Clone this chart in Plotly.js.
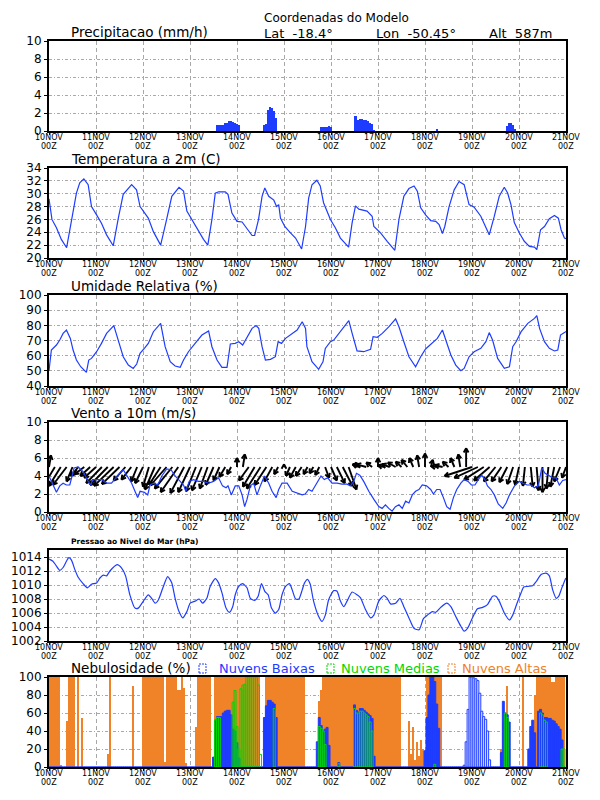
<!DOCTYPE html>
<html><head><meta charset="utf-8">
<script src="https://cdn.plot.ly/plotly-3.0.1.min.js"></script>
<style>html,body{margin:0;padding:0;background:#fff}#chart{width:600px;height:800px}</style>
</head><body><div id="chart"></div>
<script>
// ---------------- DATA ----------------
const dayLabels = ['10NOV','11NOV','12NOV','13NOV','14NOV','15NOV','16NOV','17NOV','18NOV','19NOV','20NOV','21NOV'];
const dayHours = [0,24,48,72,96,120,144,168,192,216,240,264];
const hourLabel = '00Z';

// Precipitation (mm/h), hourly from 10NOV 00Z
const precip = [
 0,0,0,0,0,0,0,0,0,0,0,0,0,0,0,0,0,0,0,0,0,0,0,0,
 0,0,0,0,0,0,0,0,0,0,0,0,0,0,0,0,0,0,0,0,0,0,0,0,
 0,0,0,0,0,0,0,0,0,0,0,0,0,0,0,0,0,0,0,0,0,0,0,0,
 0,0,0,0,0,0,0,0,0,0,0,0,0,0,0.7,0.7,0.7,0.7,0.9,0.9,1.1,1.1,1.0,0.9,
 0.8,0.7,0,0,0,0,0,0,0,0,0,0,0,0,0.7,0.8,2.3,2.65,2.6,2.2,1.5,0,0,0,
 0,0,0,0,0,0,0,0,0,0,0,0,0,0,0,0,0,0,0,0.4,0.4,0.5,0.45,0.6,
 0.5,0,0,0,0,0,0,0,0,0,0,0,1.7,1.7,1.2,1.35,1.35,1.2,1.2,1.1,0.9,0.8,0.1,0,
 0,0,0,0,0,0,0,0,0,0,0,0,0,0,0,0,0,0,0,0,0,0,0,0,
 0,0,0,0,0,0,0.2,0,0,0,0,0,0,0,0,0,0,0,0,0,0,0,0,0,
 0,0,0,0,0,0,0,0,0,0,0,0,0,0,0,0,0,0,0.6,0.85,0.9,0.7,0.2,0,
 0,0,0,0,0,0,0,0,0,0,0,0,0,0,0,0,0,0,0,0,0,0,0,0
];

// Temperature at 2m (C)
const tempT = [0,1.5,3.8,6.3,9,11.4,14,15.7,17.8,20,21.7,24.3,26.8,29.4,32.8,35.4,37.9,42.2,44.7,46.5,49,50.7,53.3,57,59.6,62.7,66.4,68.7,70.4,72.9,76.4,78.9,81.1,83.2,84.9,86.6,90,91.4,93.4,96,98.6,102,103.7,105,107,108.8,110.2,112.2,114.8,116.2,117.3,118.2,120.4,123.3,125.9,129,131,132.6,134.3,136.8,138.5,140.2,143.7,146.2,148.8,153,154.8,156.5,158.2,162.4,165,165.9,169.3,172.7,175.3,176.6,178.7,181.2,183.8,186.4,188.1,189.8,192.3,194.9,197.5,199.2,200.9,202.1,204.3,206.9,209.4,212,214.5,217.1,220.5,223.1,224.8,227.4,229.9,232.5,234.2,235.9,237.6,240.2,242.7,245.3,247.9,249.1,251,253,255.5,258.1,260.1,261.5,263.2,264];
const tempV = [29.2,26,24.7,22.9,21.6,26,30.1,31.7,32.3,31.4,28,26.7,25.4,23.6,21.9,26.2,29.9,31.4,30.6,28,27,26.2,24.1,22,25.4,29.6,31,30.4,27.3,26,24.1,22.9,22,26,30.1,30.3,30.3,29.9,27,25.7,25.6,24.3,23.5,23.5,26,29.6,30.9,29.6,29,28,28.3,26.2,24.9,23.9,23.1,21.4,24.9,29.3,31.4,32.1,31.2,28.6,26,24.7,23.1,21.7,25.5,28.1,27.6,27.3,26.5,24.9,23.9,22.6,21.7,21.2,26,29.6,30.8,31.2,30.4,27.8,26.7,25.8,25.7,25.2,23.8,24.9,28,30.6,31.9,31.4,28.3,27.9,26.5,24.9,23.6,26.5,29.6,31,30.1,28.3,25.5,23.9,22.6,21.8,21.7,21.3,24.4,24.9,26.1,26.6,26.2,24.4,23.1,23];

// Relative humidity (%)
const rhT = [0,1.2,3.8,5.5,7.2,8.9,10.9,12.3,14,16.2,19.1,20.3,21.7,24.3,26.8,29.4,33.1,35.4,37.9,40.5,43,44.8,46.5,49,50.7,53.3,57,59.3,61.9,64.4,67,68.7,71.2,74.6,78.1,81.5,83.2,85.8,88.3,90.9,92.6,95.1,96.9,98.9,101.1,103.7,105.7,107.1,108.8,110.5,113.1,115.6,117,118.7,120.8,124.2,126.7,129.3,131,131.7,134.3,137.7,139.9,141.1,143.7,145.4,147.9,150.5,153.1,154.8,157.3,160.7,164.2,165.5,167.6,170.2,173.6,177,178.7,181.2,183.8,187.2,189.8,192.3,195.8,198.3,200.9,202.6,205.2,207.7,210.3,212,214.5,217.1,220.5,223.1,224.8,226.5,229.1,232.5,235.1,236.8,238.5,241.1,244.5,247.9,249.1,250.5,253,255.5,258.1,259.8,261.2,263.2,264];
const rhV = [50,63.7,67,70.3,74.7,76.9,71.4,63.7,57.1,52.7,49,57.1,58.2,62.6,68.1,74.7,79.8,70.3,59.3,53.8,51.6,54.5,61.5,65.3,68.1,75.8,81.3,65.9,56,53.2,52.3,57.1,62.6,68.1,73.6,76.3,65.9,57.1,52.3,52.3,67.7,68.1,69.2,67,72.5,78,79.8,78,65.9,57.1,57.6,59.3,69.2,68.1,71.4,74.7,76.9,82.4,78,65.9,56,51,56,64.8,69.2,70.3,74.7,79.1,83.1,74.7,63.1,62.6,64.2,72.5,72.1,74.7,79.1,84.2,79.1,69.2,59.3,52.7,59.3,64.4,68.6,71.4,76.9,70.3,60.4,53.8,50.1,51.6,59.3,62.6,64.8,69.2,75.2,70.3,58.2,51.6,52.7,65.9,69.2,75.8,81.3,84.6,86.4,78,69.2,64.8,63.1,63.7,73.6,75.2,76];

// Wind speed at 10m (m/s)
const wsT = [0,2,3.8,5.5,7.2,8.9,10.6,11.8,12.8,14.9,17.4,20,21.4,22.2,24.3,26.8,29.4,31.9,35.4,37.9,39.6,42.2,43.9,45.3,46.5,48.7,50.4,51.6,53.3,55.5,57.6,60.1,62.3,64.4,67,68.7,69.9,71.6,73.8,76.3,78.9,81.5,84,86.6,88.6,90.4,91.4,93.1,95.1,96.9,98.6,99.9,101.1,102.8,104.5,106.2,107.9,110,112.2,113.9,116,117.3,119,121.6,124.2,126.7,129.3,130.8,132.6,134.3,136,137.7,138.9,140.6,142.3,144.5,147.1,149.6,152.2,153.9,155.6,157,158.7,160.7,163.3,165.9,168.4,170.1,171.8,173.5,175.2,176.9,178.7,180.4,182.1,183.8,185.5,187.2,188.9,190.6,192.8,194.9,196.3,198,199.7,201.4,203.1,204.8,206.5,208.2,210.3,212,214,215.7,217.5,219.2,220.9,222.6,223.9,225.7,227.4,229.4,231.7,233.4,235.1,237.7,240.2,241.9,244.1,246.2,247.9,249.9,251.6,253.3,255.5,257.2,258.9,260.6,262.3,264];
const wsV = [4.0,3.0,2.2,2.9,3.2,3.0,3.0,4.0,4.9,5.0,4.5,3.4,3.0,3.6,3.6,3.6,3.2,3.2,4.1,4.7,4.1,3.2,2.3,1.6,2.3,2.2,1.9,3.0,3.2,3.0,4.0,4.8,4.7,4.0,3.4,3.0,2.3,3.4,3.6,3.4,3.4,3.2,3.4,3.8,2.9,2.7,2.9,1.9,2.9,2.9,1.9,0.6,1.4,2.9,3.2,1.9,2.9,4.0,3.2,2.3,1.6,2.5,3.2,3.2,2.3,2.1,1.9,2.0,2.5,2.3,2.9,3.6,4.0,3.6,3.8,3.2,3.2,3.1,3.1,2.9,3.4,4.3,4.1,3.4,2.3,1.4,0.6,0.4,0.8,0.4,0.1,0.6,0.8,0.4,1.2,1.0,1.9,2.3,2.5,3.0,2.9,2.5,2.0,2.5,2.5,1.6,0.6,0.3,1.6,2.5,3.2,3.6,3.4,3.0,3.0,3.6,4.1,3.6,2.9,2.5,1.9,0.9,0.4,1.0,1.9,2.9,3.4,3.2,3.0,3.0,2.7,2.9,4.9,4.3,4.0,3.8,3.8,3.0,3.5,3.6];

// Wind vectors every 3 h: horizontal component (hours on the time axis) and vertical component (axis units), drawn from the 5 m/s baseline
const vecDx = [1,-5,-6,-7,-3,-4,-5,-5,-6,-8,-9,-10,-9,-6,-5,-3,-4,-3,-5,-6,-8,-9,-9,-7,-6,-5,-5,-4,-4,-3,-3,-2,0,1,-5,-6,-7,-6,-4,-2,0,-2,-3,-3,-2,-2,-2,2,3,4,5,4,1,-4,-5,-3,0,-3,-4,-4,-3,-3,-2,-1,0,1,-3,-4,-3,-2,-1,0,-14,-12,-10,-8,-6,-5,-4,-3,-2,-1,1,1,0,-1,-2,-3,-2];
const vecDy = [1.3,-1.8,-2.1,-2.0,-1.6,-1.0,-0.8,-1.0,-1.2,-1.8,-2.0,-2.1,-1.9,-1.5,-1.4,-1.6,-1.8,-2.2,-2.5,-2.0,-2.0,-2.4,-2.8,-2.9,-2.8,-2.7,-2.6,-2.4,-2.0,-1.5,-1.1,-0.8,1.0,1.4,-1.5,-2.2,-2.4,-2.0,-1.6,-0.8,0.3,-1.0,-1.2,-1.0,-0.8,-0.7,-0.9,-1.2,-1.5,-1.8,-2.1,-2.5,0.5,0.3,0.3,0.5,1.0,0.2,0.3,0.5,0.6,0.8,1.0,1.3,1.5,0.8,0.1,0.2,0.6,1.0,1.4,2.1,-1.0,-1.2,-1.4,-1.5,-1.6,-1.6,-1.7,-1.9,-2.0,-2.1,-2.2,-2.6,-2.8,-2.4,-2.2,-1.6,-1.2];

// Sea level pressure (hPa)
const presT = [0,2,3.8,5.5,7.2,8.9,10.1,11.4,13.2,14.9,17.4,19.6,21.7,24.3,26,27.7,29.4,31.1,34.8,37.1,39.1,41.3,43.9,45.6,48.2,50.7,52.4,54.2,55.9,58.4,60.6,62.7,64.4,66.4,68.3,70.4,72.1,74.6,76.7,78.4,80.6,82.3,84.9,86.6,88.3,90.4,92.1,93.8,95.1,96.9,98.9,101.1,102.8,105,106.8,108.5,110.2,111.9,113.6,115.6,117.3,119,120.8,122.8,124.2,125.9,127.6,129.3,130.5,132,133.4,135.1,137.7,139.4,141.1,142.8,145.4,147.1,148.8,150.5,152.2,154.8,157.3,159,161.6,164.2,165.9,168.4,171,172.7,174.4,177,179.2,181.2,183.8,186.4,189,191.2,193.2,195.8,197.5,200,203.1,205.2,207.7,210.3,212,213.7,216.2,218.8,221.4,223.9,226.5,228.2,229.9,232.5,235.1,236.8,239,241.1,242.4,244.5,247,248.8,251.3,253.8,255.5,257.2,259,260.3,261.9,263.6,264];
const presV = [1013.7,1013.4,1012.7,1012.1,1012.5,1013.4,1013.9,1013.6,1012.2,1011.1,1010.2,1009.6,1010.1,1010.3,1011,1011.4,1011.3,1012,1012.9,1012.4,1011.3,1008.6,1006.7,1006.7,1007.7,1008.6,1008.1,1007.4,1007.9,1009.8,1011.2,1010.3,1008.1,1006.2,1005.3,1006.2,1007.4,1007.7,1008,1007.4,1008.1,1009.8,1010.9,1010.3,1008.9,1006.7,1006.1,1006.9,1008.6,1009.8,1010.2,1009.6,1008.1,1007.8,1008.4,1010.2,1009.1,1008.6,1006.7,1006,1006.5,1008.6,1009.8,1010.2,1009.3,1008,1008,1009.3,1010.3,1010.8,1010.1,1007.7,1005.5,1004.8,1005.7,1007.9,1009.2,1009.1,1007.7,1006.9,1007.7,1009,1008.6,1008.2,1006.5,1005.3,1005.7,1007.7,1008.5,1008.1,1007.3,1007.4,1008.1,1006.9,1005.3,1003.8,1003.6,1005.2,1005.7,1006.2,1006.1,1006.8,1007.4,1006.9,1005.5,1004.1,1003.4,1003.8,1005.3,1006.6,1006.8,1007.2,1008.4,1008.4,1007.7,1006,1005,1005.7,1007.4,1008.9,1009.7,1009.8,1009.9,1010.5,1011.5,1011.7,1011.3,1009.3,1008.1,1008.4,1009.6,1010.8,1011];

// Cloud cover (%), hourly
const cloudHigh = [
 100,100,100,100,100,100,2,0,0,51,100,100,100,100,0,100,0,54,0,0,0,0,0,0,
 0,0,0,0,0,0,15,100,0,0,0,0,0,0,0,0,0,0,0,90,0,0,0,0,
 100,100,100,100,100,100,100,100,100,100,100,6,100,100,100,100,100,100,86,86,100,88,5,0,
 0,0,0,45,100,100,100,100,100,100,100,0,0,100,100,100,100,100,100,100,100,100,100,100,
 100,100,100,100,100,100,100,100,100,100,100,100,0,0,0,100,100,100,100,100,100,100,100,100,
 100,100,100,100,100,100,100,100,100,100,100,0,0,0,0,0,0,15,73,86,100,100,100,100,
 100,100,100,100,100,100,100,100,100,100,100,100,100,100,100,100,100,100,100,100,100,100,100,100,
 100,100,100,100,100,100,100,100,100,100,100,100,0,0,0,0,51,15,45,8,28,12,30,20,
 5,100,100,100,100,100,100,100,100,0,0,0,0,0,0,0,0,0,0,0,0,0,0,0,
 0,0,0,0,0,0,0,0,0,0,0,0,0,0,0,20,50,60,90,40,0,0,0,0,
 0,0,100,0,0,20,30,45,80,100,100,100,100,100,100,100,100,95,95,100,100,100,100,100
];
const cloudLow = [
 0,0,0,0,0,0,0,0,0,0,0,0,0,0,0,0,0,0,0,0,0,0,0,0,
 0,0,0,0,0,0,0,0,0,0,0,0,0,0,0,0,0,0,0,0,0,0,0,0,
 0,0,0,0,0,0,0,0,0,0,0,0,0,0,0,0,0,0,0,0,0,0,0,0,
 0,0,0,0,0,0,0,0,0,0,0,0,11,52,56,56,56,60,62,63,63,58,42,40,
 27,10,0,0,0,0,0,0,0,0,0,0,0,0,55,68,74,74,72,70,55,0,0,0,
 0,0,0,0,0,0,0,0,0,0,0,0,0,0,0,0,0,28,55,46,40,42,44,24,
 0,0,0,0,5,0,0,0,0,0,0,0,69,63,61,65,65,63,61,59,57,54,12,0,
 0,0,0,0,0,0,0,0,0,0,0,0,0,0,0,0,0,0,0,0,0,0,0,0,
 18,55,80,100,100,95,70,43,0,0,0,0,0,0,0,0,0,0,0,0,2,28,64,100,
 100,99,98,96,82,62,56,53,40,8,0,0,0,0,0,16,73,60,58,50,0,0,0,0,
 0,0,0,0,0,20,45,52,38,0,62,64,60,55,55,54,54,52,51,48,45,42,30,0
];
const cloudMid = [
 0,0,0,0,0,0,0,0,0,0,0,0,0,0,0,0,0,0,0,0,0,0,0,0,
 0,0,0,0,0,0,0,0,0,0,0,0,0,0,0,0,0,0,0,0,0,0,0,0,
 0,0,0,0,0,0,0,0,0,0,0,0,0,0,0,0,0,0,0,0,0,0,0,0,
 0,0,0,0,0,0,0,0,0,0,0,0,0,52,55,55,0,0,0,0,0,0,72,85,
 45,20,87,91,92,100,100,100,100,100,100,91,14,0,0,0,0,0,0,65,0,0,0,0,
 0,0,0,0,0,0,0,0,0,0,0,0,0,0,0,0,0,0,45,43,40,25,0,0,
 0,0,0,0,4,0,0,0,0,0,0,0,65,60,60,62,62,60,58,56,50,40,0,0,
 0,0,0,0,0,0,0,0,0,0,0,0,0,0,0,0,0,0,0,0,0,0,0,0,
 0,0,0,0,0,3,0,0,0,0,0,0,0,0,0,0,0,0,0,0,0,0,0,0,
 0,0,0,0,0,0,0,0,0,0,0,0,0,0,0,0,0,60,55,0,0,0,0,0,
 0,0,0,0,0,0,0,0,0,0,0,60,58,52,50,0,0,0,0,0,0,0,20,20
];

// ---------------- STYLE / LAYOUT ----------------
const BLUE = 'rgb(30,60,255)', ORANGE = 'rgb(240,130,40)', GREEN = 'rgb(0,215,0)';
const FONT = 'DejaVu Sans';
const W = 600, H = 800, PL = 49, PR = 566;
const panelPx = [[41,131],[168,258],[295,386],[422,512],[550,641],[677,767]];
const yRanges = [[0,10],[20,34],[40,100],[0,10],[1002,1015],[0,100]];
const yTicks = [[0,2,4,6,8,10],[20,22,24,26,28,30,32,34],[40,50,60,70,80,90,100],[0,2,4,6,8,10],[1002,1004,1006,1008,1010,1012,1014],[0,20,40,60,80,100]];
const titles = ['Precipitacao (mm/h)','Temperatura a 2m (C)','Umidade Relativa (%)','Vento a 10m (m/s)','Pressao ao Nivel do Mar (hPa)','Nebulosidade (%)'];

const hours = precip.map((_, i) => i);

const layout = {
  width: W, height: H, margin: {l:0, r:0, t:0, b:0},
  paper_bgcolor: '#fff', plot_bgcolor: '#fff', showlegend: false,
  barmode: 'overlay', bargap: 0,
  annotations: [], shapes: []
};
panelPx.forEach((p, i) => {
  const s = i === 0 ? '' : String(i + 1);
  layout['xaxis' + s] = {
    domain: [PL / W, PR / W], range: [0, 264], anchor: 'y' + s,
    tickmode: 'array', tickvals: dayHours, showticklabels: false,
    showgrid: true, gridcolor: '#a8a8a8', gridwidth: 1, griddash: '4px,3px',
    showline: true, mirror: true, linecolor: '#000', linewidth: 2,
    ticks: 'outside', ticklen: 2, tickcolor: '#000', zeroline: false, fixedrange: true
  };
  layout['yaxis' + s] = {
    domain: [1 - p[1] / H, 1 - p[0] / H], range: yRanges[i], anchor: 'x' + s,
    tickmode: 'array', tickvals: yTicks[i], ticktext: yTicks[i].map(String),
    showgrid: true, gridcolor: '#a8a8a8', gridwidth: 1, griddash: '3px,2px,1px,2px',
    showline: true, mirror: true, linecolor: '#000', linewidth: 2,
    ticks: 'outside', ticklen: 3, tickcolor: '#000',
    tickfont: {family: FONT, size: 12, color: '#000'}, zeroline: false, fixedrange: true
  };
  // two-row time labels under each panel
  dayHours.forEach((h, j) => {
    [[dayLabels[j], 6.5], [hourLabel, 15.5]].forEach(([txt, off]) => {
      layout.annotations.push({xref: 'x' + s, yref: 'paper', x: h, y: 1 - (p[1] + off) / H,
        xanchor: 'center', yanchor: 'middle', showarrow: false, borderpad: 0, text: txt,
        font: {family: FONT, size: 8, color: '#000'}});
    });
  });
  const small = i === 4;
  layout.annotations.push({
    xref: 'paper', yref: 'paper', x: 70 / W, y: 1 - (p[0] - (small ? 3 : 0)) / H,
    xanchor: 'left', yanchor: 'bottom', showarrow: false, borderpad: 0,
    text: small ? '<b>' + titles[i] + '</b>' : titles[i],
    font: {family: FONT, size: small ? 7.5 : 13.5, color: '#000'}
  });
});

// header
const hdr = (txt, x, y, size) => layout.annotations.push({xref:'paper', yref:'paper', x: x / W, y: 1 - y / H,
  xanchor:'left', yanchor:'middle', showarrow:false, text: txt, font:{family: FONT, size: size, color:'#000'}});
hdr('Coordenadas do Modelo', 262, 18, 12);
hdr('Lat  -18.4°', 262, 33, 13);
hdr('Lon  -50.45°', 374, 33, 13);
hdr('Alt  587m', 487, 33, 13);

// cloud legend
const legendItems = [['Nuvens Baixas', BLUE, 199, 218], ['Nuvens Medias', GREEN, 327, 340], ['Nuvens Altas', ORANGE, 448, 461]];
legendItems.forEach(([txt, col, sx, tx]) => {
  layout.shapes.push({type:'rect', xref:'paper', yref:'paper', x0: sx / W, x1: (sx + 7) / W,
    y0: 1 - 673 / H, y1: 1 - 664 / H, line:{color: col, width: 1, dash: '2px,1px'}, fillcolor:'rgba(0,0,0,0)'});
  layout.annotations.push({xref:'paper', yref:'paper', x: tx / W, y: 1 - 677 / H, xanchor:'left', yanchor:'bottom',
    showarrow:false, borderpad:0, text: txt, font:{family: FONT, size: 13, color: col}});
});

// ---------------- TRACES ----------------
const traces = [];
traces.push({type:'bar', x: hours, y: precip, width: 1, xaxis:'x', yaxis:'y',
  marker:{color: BLUE, line:{width:0}}, hoverinfo:'skip'});
traces.push({type:'scatter', mode:'lines', x: tempT, y: tempV, xaxis:'x2', yaxis:'y2',
  line:{color: BLUE, width: 1.2}, hoverinfo:'skip'});
traces.push({type:'scatter', mode:'lines', x: rhT, y: rhV, xaxis:'x3', yaxis:'y3',
  line:{color: BLUE, width: 1.2}, hoverinfo:'skip'});

// wind vectors from 5 m/s baseline, with arrowheads computed in pixel space
const PXH = (PR - PL) / 264, PXU = (panelPx[3][1] - panelPx[3][0]) / 10, BASE = 5;
const vx = [], vy = [];
vecDx.forEach((dx, i) => {
  const t = i * 3, dy = vecDy[i];
  const ex = t + dx, ey = BASE + dy;
  vx.push(t, ex, null); vy.push(BASE, ey, null);
  const px = dx * PXH, py = dy * PXU;
  if (Math.hypot(px, py) < 2) return;
  const a = Math.atan2(py, px);
  [-1, 1].forEach(sg => {
    const b = a + Math.PI + sg * 0.5;
    vx.push(ex, ex + 5 * Math.cos(b) / PXH, null);
    vy.push(ey, ey + 5 * Math.sin(b) / PXU, null);
  });
});
traces.push({type:'scatter', mode:'lines', x: vx, y: vy, xaxis:'x4', yaxis:'y4',
  line:{color:'#000', width: 1.9}, hoverinfo:'skip'});
traces.push({type:'scatter', mode:'lines', x: wsT, y: wsV, xaxis:'x4', yaxis:'y4',
  line:{color: BLUE, width: 1.2}, hoverinfo:'skip'});

traces.push({type:'scatter', mode:'lines', x: presT, y: presV, xaxis:'x5', yaxis:'y5',
  line:{color: BLUE, width: 1.2, shape:'spline', smoothing: 0.6}, hoverinfo:'skip'});

// clouds
const outlineSpans = [[211,226]];
const lowFill = hours.map(h => outlineSpans.some(([a, b]) => h >= a && h <= b) ? '#fff' : BLUE);
traces.push({type:'bar', x: hours, y: cloudHigh.map(v => v || null), width: 1, xaxis:'x6', yaxis:'y6',
  marker:{color: ORANGE, line:{width:0}}, hoverinfo:'skip'});
traces.push({type:'bar', x: hours, y: cloudLow, width: 1, xaxis:'x6', yaxis:'y6',
  marker:{color: lowFill, line:{color: BLUE, width: 1}}, hoverinfo:'skip'});
traces.push({type:'bar', x: hours, y: cloudMid.map(v => v || null), width: 1, xaxis:'x6', yaxis:'y6',
  marker:{color: 'rgba(0,0,0,0)', line:{color: GREEN, width: 1}}, hoverinfo:'skip'});

Plotly.newPlot('chart', traces, layout, {staticPlot: true, displayModeBar: false});
</script>
</body></html>
